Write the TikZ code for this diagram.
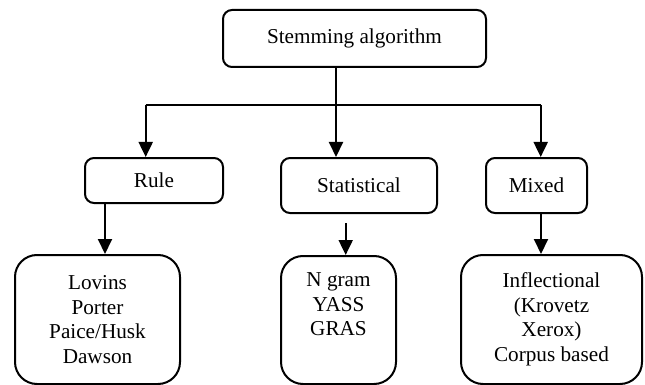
\documentclass[tikz,border=0pt]{standalone}
\usepackage{fontspec}
\setmainfont{Liberation Serif}
\usetikzlibrary{arrows.meta}
\begin{document}
\begin{tikzpicture}[x=1pt,y=-1pt,
  every node/.style={font=\fontsize{21.2}{24.5}\selectfont},
  box/.style={draw,line width=2pt,rounded corners=9pt,inner sep=0pt,align=center},
  bigbox/.style={box,rounded corners=22pt},
  arr/.style={line width=2pt,-{Triangle[length=15pt,width=14pt]}},
  link/.style={line width=2pt}]
\useasboundingbox (0,0) rectangle (645,385);
% root and first level
\node[box,minimum width=263pt,minimum height=57pt] (root) at (354.5,38.5) {Stemming algorithm};
\node[box,minimum width=138pt,minimum height=45pt] (rule) at (154,180.5) {Rule};
\node[box,minimum width=156pt,minimum height=55pt] (stat) at (359,185.5) {Statistical};
\node[box,minimum width=101pt,minimum height=55pt] (mixed) at (536.5,185.5) {Mixed};
% second level
\node[bigbox,minimum width=165pt,minimum height=129pt] (lov) at (97.5,319.5) {Lovins\\Porter\\Paice/Husk\\Dawson};
\node[bigbox,minimum width=115pt,minimum height=128pt] (ngr) at (338.5,320) {N gram\\YASS\\GRAS\\\strut};
\node[bigbox,minimum width=181pt,minimum height=129pt] (infl) at (551.5,319.5) {Inflectional\\(Krovetz\\Xerox)\\Corpus based};
% branch positions
\coordinate (bl) at (145.7,105);
\coordinate (bm) at (336,105);
\coordinate (br) at (540.7,105);
\coordinate (xl) at (105,0);
\coordinate (xm) at (345.7,0);
\coordinate (xr) at (541,0);
% connectors
\draw[link] (bl) -- (br);
\draw[arr] (root.south -| bm) -- (stat.north -| bm);
\draw[arr] (bl) -- (rule.north -| bl);
\draw[arr] (br) -- (mixed.north -| br);
\draw[arr] (rule.south -| xl) -- (lov.north -| xl);
\draw[arr,shorten <=9pt] (stat.south -| xm) -- (ngr.north -| xm);
\draw[arr] (mixed.south -| xr) -- (infl.north -| xr);
\end{tikzpicture}
\end{document}
